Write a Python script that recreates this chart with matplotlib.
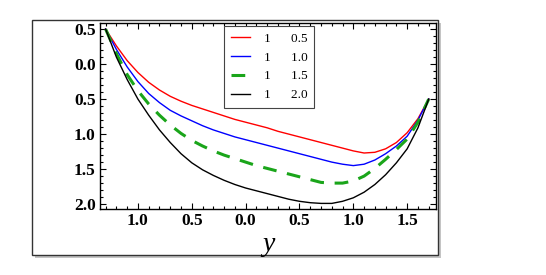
import numpy as np
import matplotlib
matplotlib.use("Agg")
import matplotlib.pyplot as plt
from matplotlib.patches import Rectangle
from matplotlib.ticker import FixedLocator, MultipleLocator

plt.rcParams['font.family'] = ['Liberation Serif', 'DejaVu Serif']

## ------------------------------ data ------------------------------

x_vals = [-1.3, -1.2, -1.1, -1.0, -0.9, -0.8, -0.7, -0.6, -0.5, -0.4, -0.3,
          -0.2, -0.1, 0.0, 0.1, 0.2, 0.3, 0.4, 0.5, 0.6, 0.7, 0.8, 0.9,
          1.0, 1.1, 1.2, 1.3, 1.4, 1.5, 1.6, 1.7]

red_vals = [0.50, 0.26, 0.05, -0.12, -0.26, -0.37, -0.46, -0.53, -0.59, -0.64, -0.69,
            -0.74, -0.79, -0.83, -0.87, -0.91, -0.96, -1.00, -1.04, -1.08, -1.12, -1.16,
            -1.20, -1.24, -1.27, -1.26, -1.21, -1.12, -0.98, -0.78, -0.50]
blue_vals = [0.50, 0.21, -0.04, -0.25, -0.42, -0.55, -0.66, -0.74, -0.81, -0.88, -0.94,
             -0.99, -1.04, -1.08, -1.12, -1.16, -1.20, -1.24, -1.28, -1.32, -1.36, -1.40,
             -1.43, -1.45, -1.43, -1.37, -1.28, -1.17, -1.03, -0.80, -0.50]
green_vals = [0.50, 0.15, -0.15, -0.38, -0.57, -0.73, -0.87, -0.99, -1.09, -1.17, -1.24,
              -1.30, -1.35, -1.40, -1.45, -1.49, -1.53, -1.57, -1.61, -1.65, -1.69, -1.70,
              -1.70, -1.67, -1.60, -1.49, -1.36, -1.22, -1.07, -0.83, -0.50]
black_vals = [0.50, 0.10, -0.22, -0.50, -0.73, -0.94, -1.12, -1.28, -1.41, -1.51, -1.59,
              -1.66, -1.72, -1.77, -1.81, -1.85, -1.89, -1.93, -1.96, -1.98, -1.99, -1.99,
              -1.96, -1.91, -1.83, -1.72, -1.58, -1.41, -1.21, -0.91, -0.50]

legend_vals = ['0.5', '1.0', '1.5', '2.0']

x_ticks = [-1.0, -0.5, 0.0, 0.5, 1.0, 1.5]
x_ticklabels = ['1.0', '0.5', '0.0', '0.5', '1.0', '1.5']
y_ticks = [0.5, 0.0, -0.5, -1.0, -1.5, -2.0]
y_ticklabels = ['0.5', '0.0', '0.5', '1.0', '1.5', '2.0']

## ------------------------------ figure ------------------------------

fig = plt.figure(figsize=(5.46, 2.75), dpi=100)

# outer frame with a soft shadow
shadow = Rectangle((0.0586 + 0.006, 0.0727 - 0.011), 0.744, 0.855,
                   transform=fig.transFigure, facecolor='#c4c4c4', edgecolor='none', zorder=0)
frame = Rectangle((0.0586, 0.0727), 0.744, 0.855, transform=fig.transFigure,
                  facecolor='white', edgecolor='#333333', lw=1.0, zorder=1)
fig.patches.extend([shadow, frame])

ax = fig.add_axes([0.183, 0.24, 0.616, 0.676])
ax.set_zorder(2)

styles = [
    (red_vals, dict(color='#ff0000', lw=1.0)),
    (blue_vals, dict(color='#0000ff', lw=1.0)),
    (green_vals, dict(color='#1aa51a', lw=2.2, dashes=(4.5, 3.5))),
    (black_vals, dict(color='black', lw=1.0)),
]
for (vals, kw), lab in zip(styles, legend_vals):
    ax.plot(x_vals, vals, label='1      ' + lab, **kw)

ax.set_xlim(-1.353, 1.77)
ax.set_ylim(-2.07, 0.586)

ax.xaxis.set_major_locator(FixedLocator(x_ticks))
ax.set_xticklabels(x_ticklabels)
ax.yaxis.set_major_locator(FixedLocator(y_ticks))
ax.set_yticklabels(y_ticklabels)
ax.xaxis.set_minor_locator(MultipleLocator(0.1))
ax.yaxis.set_minor_locator(MultipleLocator(0.1))
ax.tick_params(which='both', direction='in', top=True, right=True, width=0.8)
ax.tick_params(which='major', length=4, labelsize=12.5, pad=3)
ax.tick_params(which='minor', length=2)
for t in ax.get_xticklabels() + ax.get_yticklabels():
    t.set_fontweight('bold')
for s in ax.spines.values():
    s.set_linewidth(1.0)

ax.set_xlabel('y', fontsize=20, style='italic', labelpad=2)

leg = ax.legend(loc='upper left', bbox_to_anchor=(0.369, 0.985), borderaxespad=0,
                fontsize=9.5, frameon=True, fancybox=False, edgecolor='#444444',
                framealpha=1, handlelength=1.5, handletextpad=1.0, labelspacing=0.5,
                borderpad=0.5)
leg.get_frame().set_linewidth(0.8)

fig.savefig('out.png', dpi=100)
